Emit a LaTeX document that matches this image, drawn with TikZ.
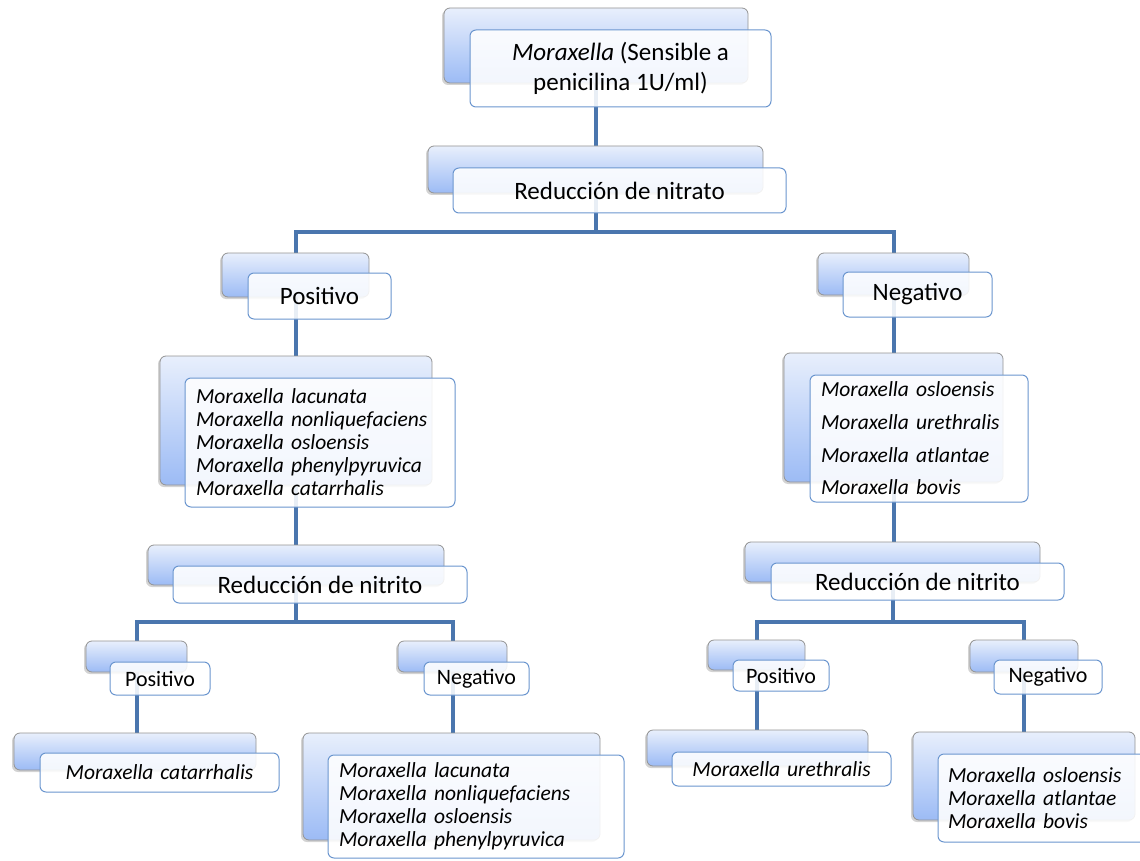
\documentclass[tikz,border=0pt]{standalone}
\usepackage{fontspec}
\setmainfont{Carlito}
\usetikzlibrary{shadows,backgrounds}
\definecolor{linkblue}{RGB}{74,118,174}
\definecolor{topblue}{RGB}{232,239,252}
\definecolor{botblue}{RGB}{156,187,245}
\definecolor{edgeblue}{RGB}{107,150,207}
\newcommand\cursivafont{\fontsize{21.5}{23}\selectfont\itshape\spaceskip=0.32em\relax}
\begin{document}
\begin{tikzpicture}[x=1pt, y=-1pt, line join=round, line cap=round,
	backbox/.style 2 args={draw=gray!85, line width=.8pt, rounded corners=6pt,
		top color=topblue, bottom color=botblue, inner sep=0pt,
		drop shadow={shadow xshift=-2pt, shadow yshift=-2pt, opacity=.35},
		minimum width=#1, minimum height=#2},
	frontbox/.style 2 args={draw=edgeblue, line width=1pt, rounded corners=6pt,
		fill=white, fill opacity=.88, text opacity=1, inner sep=0pt,
		minimum width=#1, minimum height=#2, font=\fontsize{25}{30}\selectfont},
	chico/.style={font=\fontsize{22}{26}\selectfont},
	cursiva/.style={font=\cursivafont},
	especies/.style={align=left, text width=#1, inner xsep=11pt, cursiva},
	link/.style={linkblue, line width=4pt, line cap=butt}]
	\useasboundingbox (0,0) rectangle (1140,861);
	% Raiz
	\node[backbox={304pt}{75pt}] (topB) at (596,45.5) {};
	\node[frontbox={301pt}{77pt}, align=center] (topF) at (620.5,68.5)
		{\textit{Moraxella} (Sensible a\\penicilina 1U/ml)};
	\node[backbox={335pt}{47pt}] (nitratoB) at (595.5,169.5) {};
	\node[frontbox={333pt}{45pt}] (nitratoF) at (619.5,190.5) {Reducción de nitrato};
	% Primer nivel
	\node[backbox={147pt}{44pt}] (posB) at (295.5,275) {};
	\node[frontbox={143pt}{46pt}] (posF) at (319.5,296) {Positivo};
	\node[backbox={151pt}{42pt}] (negB) at (893.5,274) {};
	\node[frontbox={149pt}{45pt}] (negF) at (917.5,294.5) {Negativo};
	\node[backbox={272pt}{129pt}] (listLB) at (296,420.5) {};
	\node[frontbox={270pt}{129pt}, especies=248pt] (listLF) at (320,442.5)
		{Moraxella lacunata\\Moraxella nonliquefaciens\\Moraxella osloensis\\Moraxella phenylpyruvica\\Moraxella catarrhalis};
	\node[backbox={219pt}{129pt}] (listRB) at (893.5,417.5) {};
	\node[frontbox={218pt}{127pt}, especies=196pt] (listRF) at (919,438.5)
		{Moraxella osloensis\\[9.7pt]Moraxella urethralis\\[9.7pt]Moraxella atlantae\\[9.7pt]Moraxella bovis};
	% Segundo nivel
	\node[backbox={296pt}{40pt}] (nitritoLB) at (296,565) {};
	\node[frontbox={294pt}{37pt}] (nitritoLF) at (320,584.5) {Reducción de nitrito};
	\node[backbox={295pt}{40pt}] (nitritoRB) at (892.5,562) {};
	\node[frontbox={293pt}{37pt}] (nitritoRF) at (917.5,581.5) {Reducción de nitrito};
	\node[backbox={101pt}{31pt}] (posLB) at (136.5,656.5) {};
	\node[frontbox={100pt}{33pt}, chico] (posLF) at (160,678.5) {Positivo};
	\node[backbox={109pt}{31pt}] (negLB) at (452.5,656.5) {};
	\node[frontbox={105pt}{33pt}, chico] (negLF) at (476.5,678.5) {Negativo};
	\node[backbox={97pt}{30pt}] (posRB) at (756.5,655) {};
	\node[frontbox={96pt}{31pt}, chico] (posRF) at (781,675.5) {Positivo};
	\node[backbox={108pt}{32pt}] (negRB) at (1024,656) {};
	\node[frontbox={108pt}{34pt}, chico] (negRF) at (1048,677) {Negativo};
	% Hojas
	\node[backbox={242pt}{37pt}] (catB) at (135,751.5) {};
	\node[frontbox={239pt}{39pt}, cursiva] (catF) at (159.5,772.5)
		{Moraxella catarrhalis};
	\node[backbox={297pt}{107pt}] (listLLB) at (451.5,786.5) {};
	\node[frontbox={296pt}{103pt}, especies=274pt] (listLLF) at (476,806.5)
		{Moraxella lacunata\\Moraxella nonliquefaciens\\Moraxella osloensis\\Moraxella phenylpyruvica};
	\node[backbox={221pt}{36pt}] (urB) at (757.5,748) {};
	\node[frontbox={219pt}{34pt}, cursiva] (urF) at (781.5,769)
		{Moraxella urethralis};
	\node[backbox={222pt}{88pt}] (listRRB) at (1024,776) {};
	\node[frontbox={224pt}{88pt}, especies=204pt, inner xsep=10pt] (listRRF) at (1050,798)
		{Moraxella osloensis\\Moraxella atlantae\\Moraxella bovis};
	% Conectores
	\begin{scope}[on background layer]
		\draw[link] (topB.south) -- (topB.south |- nitratoB.north);
		\draw[link] (nitratoB.south) -- ++(0,39) -| (posB.north);
		\draw[link] (nitratoB.south) -- ++(0,39) -| (negB.north);
		\draw[link] (posB.south) -- (posB.south |- listLB.north);
		\draw[link] (negB.south) -- (negB.south |- listRB.north);
		\draw[link] (listLB.south) -- (listLB.south |- nitritoLB.north);
		\draw[link] (listRB.south) -- (listRB.south |- nitritoRB.north);
		\draw[link] (nitritoLB.south) -- ++(0,37) -| (posLB.north);
		\draw[link] (nitritoLB.south) -- ++(0,37) -| (negLB.north);
		\draw[link] (nitritoRB.south) -- ++(0,40) -| (posRB.north);
		\draw[link] (nitritoRB.south) -- ++(0,40) -| (negRB.north);
		\draw[link] (posLB.south) -- (posLB.south |- catB.north);
		\draw[link] (negLB.south) -- (negLB.south |- listLLB.north);
		\draw[link] (posRB.south) -- (posRB.south |- urB.north);
		\draw[link] (negRB.south) -- (negRB.south |- listRRB.north);
	\end{scope}
\end{tikzpicture}
\end{document}
